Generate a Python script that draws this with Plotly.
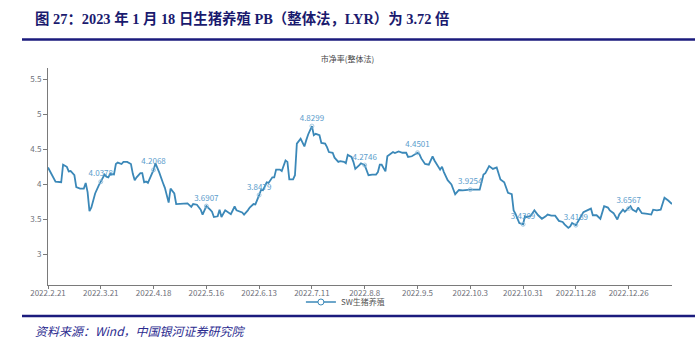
import plotly.graph_objects as go

# ---------------- data ----------------
dates = [
    "2022-02-21", "2022-02-22", "2022-02-25", "2022-02-28", "2022-03-01", "2022-03-03",
    "2022-03-04", "2022-03-05", "2022-03-07", "2022-03-08", "2022-03-10", "2022-03-12",
    "2022-03-13", "2022-03-14", "2022-03-15", "2022-03-16", "2022-03-18", "2022-03-20",
    "2022-03-21", "2022-03-23", "2022-03-24", "2022-03-25", "2022-03-26", "2022-03-28",
    "2022-03-29", "2022-03-30", "2022-04-01", "2022-04-02", "2022-04-04", "2022-04-06",
    "2022-04-07", "2022-04-08", "2022-04-09", "2022-04-11", "2022-04-12", "2022-04-13",
    "2022-04-14", "2022-04-15", "2022-04-18", "2022-04-19", "2022-04-21", "2022-04-22",
    "2022-04-23", "2022-04-24", "2022-04-26", "2022-04-27", "2022-04-29", "2022-04-30",
    "2022-05-06", "2022-05-08", "2022-05-09", "2022-05-11", "2022-05-13", "2022-05-14",
    "2022-05-16", "2022-05-18", "2022-05-19", "2022-05-20", "2022-05-22", "2022-05-23",
    "2022-05-24", "2022-05-26", "2022-05-28", "2022-05-29", "2022-05-31", "2022-06-01",
    "2022-06-04", "2022-06-05", "2022-06-07", "2022-06-08", "2022-06-10", "2022-06-11",
    "2022-06-13", "2022-06-14", "2022-06-15", "2022-06-17", "2022-06-18", "2022-06-20",
    "2022-06-21", "2022-06-22", "2022-06-24", "2022-06-25", "2022-06-27", "2022-06-28",
    "2022-06-29", "2022-07-01", "2022-07-02", "2022-07-03", "2022-07-05", "2022-07-07",
    "2022-07-08", "2022-07-09", "2022-07-11", "2022-07-12", "2022-07-13", "2022-07-15",
    "2022-07-16", "2022-07-18", "2022-07-19", "2022-07-20", "2022-07-22", "2022-07-23",
    "2022-07-25", "2022-07-26", "2022-07-28", "2022-07-29", "2022-07-30", "2022-08-01",
    "2022-08-02", "2022-08-03", "2022-08-05", "2022-08-06", "2022-08-08", "2022-08-09",
    "2022-08-10", "2022-08-12", "2022-08-14", "2022-08-15", "2022-08-16", "2022-08-17",
    "2022-08-19", "2022-08-20", "2022-08-22", "2022-08-23", "2022-08-24", "2022-08-26",
    "2022-08-28", "2022-08-30", "2022-08-31", "2022-09-02", "2022-09-05", "2022-09-06",
    "2022-09-07", "2022-09-09", "2022-09-11", "2022-09-13", "2022-09-14", "2022-09-17",
    "2022-09-18", "2022-09-19", "2022-09-21", "2022-09-23", "2022-09-25", "2022-09-27",
    "2022-09-29", "2022-10-03", "2022-10-08", "2022-10-10", "2022-10-11", "2022-10-13",
    "2022-10-15", "2022-10-17", "2022-10-19", "2022-10-21", "2022-10-23", "2022-10-25",
    "2022-10-26", "2022-10-27", "2022-10-29", "2022-10-31", "2022-11-01", "2022-11-02",
    "2022-11-04", "2022-11-06", "2022-11-08", "2022-11-10", "2022-11-12", "2022-11-13",
    "2022-11-15", "2022-11-17", "2022-11-19", "2022-11-21", "2022-11-22", "2022-11-24",
    "2022-11-25", "2022-11-26", "2022-11-28", "2022-11-30", "2022-12-02", "2022-12-04",
    "2022-12-06", "2022-12-07", "2022-12-09", "2022-12-11", "2022-12-13", "2022-12-15",
    "2022-12-16", "2022-12-18", "2022-12-20", "2022-12-21", "2022-12-23", "2022-12-24",
    "2022-12-26", "2022-12-27", "2022-12-28", "2022-12-30", "2022-12-31", "2023-01-02",
    "2023-01-05", "2023-01-07", "2023-01-08", "2023-01-10", "2023-01-12", "2023-01-14",
    "2023-01-16", "2023-01-18",
]

pb_values = [
    4.24, 4.19, 4.04, 4.03, 4.28, 4.25,
    4.185, 4.19, 4.13, 3.96, 3.94, 3.94,
    4.02, 3.89, 3.62, 3.67, 3.87, 3.99,
    4.0378, 4.14, 4.11, 4.10, 4.15, 4.14,
    4.29, 4.31, 4.29, 4.32, 4.32, 4.29,
    4.15, 4.06, 4.10, 4.16, 4.16, 4.03,
    4.04, 4.02, 4.2068, 4.30, 4.17, 4.08,
    4.02, 3.95, 3.74, 3.94, 3.87, 3.72,
    3.73, 3.68, 3.72, 3.71, 3.64, 3.57,
    3.6907, 3.64, 3.61, 3.535, 3.545, 3.64,
    3.535, 3.63, 3.60, 3.575, 3.685, 3.63,
    3.60, 3.57, 3.63, 3.67, 3.72, 3.715,
    3.8479, 3.92, 3.915, 4.03, 4.02, 4.10,
    4.10, 4.21, 4.21, 4.19, 4.34, 4.32,
    4.07, 4.07, 4.13, 4.58, 4.65, 4.54,
    4.63, 4.71, 4.8299, 4.70, 4.72, 4.70,
    4.59, 4.58, 4.53, 4.46, 4.45, 4.38,
    4.32, 4.33, 4.32, 4.30, 4.42, 4.39,
    4.32, 4.22, 4.27, 4.30, 4.2746, 4.20,
    4.13, 4.14, 4.14, 4.175, 4.28, 4.28,
    4.185, 4.40, 4.44, 4.46, 4.445, 4.47,
    4.45, 4.45, 4.39, 4.40, 4.4501, 4.43,
    4.37, 4.29, 4.28, 4.40, 4.34, 4.21,
    4.25, 4.175, 4.06, 4.00, 3.86, 3.92,
    3.915, 3.9254, 3.925, 4.14, 4.16, 4.26,
    4.22, 4.24, 4.07, 4.03, 3.88, 3.86,
    3.63, 3.58, 3.45, 3.4309, 3.545, 3.535,
    3.55, 3.63, 3.56, 3.51, 3.545, 3.57,
    3.555, 3.555, 3.48, 3.465, 3.43, 3.38,
    3.40, 3.45, 3.4189, 3.51, 3.605, 3.63,
    3.655, 3.56, 3.56, 3.51, 3.69, 3.67,
    3.63, 3.59, 3.50, 3.57, 3.64, 3.61,
    3.6567, 3.69, 3.64, 3.61, 3.67, 3.59,
    3.58, 3.57, 3.64, 3.63, 3.64, 3.81,
    3.77, 3.72,
]

label_dates = ["2022-03-21", "2022-04-18", "2022-05-16", "2022-06-13", "2022-07-11",
               "2022-08-08", "2022-09-05", "2022-10-03", "2022-10-31", "2022-11-28",
               "2022-12-26"]
label_values = [4.0378, 4.2068, 3.6907, 3.8479, 4.8299, 4.2746, 4.4501, 3.9254,
                3.4309, 3.4189, 3.6567]

tick_dates = ["2022-02-21", "2022-03-21", "2022-04-18", "2022-05-16", "2022-06-13",
              "2022-07-11", "2022-08-08", "2022-09-05", "2022-10-03", "2022-10-31",
              "2022-11-28", "2022-12-26"]
tick_text = ["2022.2.21", "2022.3.21", "2022.4.18", "2022.5.16", "2022.6.13",
             "2022.7.11", "2022.8.8", "2022.9.5", "2022.10.3", "2022.10.31",
             "2022.11.28", "2022.12.26"]
y_tick_vals = [3, 3.5, 4, 4.5, 5, 5.5]
y_tick_text = ["3", "3.5", "4", "4.5", "5", "5.5"]

series_name = "SW生猪养殖"
chart_title = "市净率(整体法)"
header_text = "图 27：2023 年 1 月 18 日生猪养殖 PB（整体法，LYR）为 3.72 倍"
source_text = "资料来源：Wind，中国银河证券研究院"

# ---------------- styling ----------------
LINE_COLOR = "#3b88b8"
LABEL_COLOR = "#5a9dcc"
AXIS_COLOR = "#7a7a7a"
TICK_FONT = dict(family="Noto Sans CJK SC, Open Sans, sans-serif", size=8, color="#6e7079")
NAVY = "#1b1b7d"

W, H = 695, 346
ML, MR, MT, MB = 48, 23, 68, 61
PW, PH = W - ML - MR, H - MT - MB


def px_to_paper_x(px):
    return (px - ML) / PW


def px_to_paper_y(py):
    return (H - MB - py) / PH


fig = go.Figure()

fig.add_trace(go.Scatter(
    x=dates, y=pb_values, mode="lines",
    line=dict(color=LINE_COLOR, width=1.8),
    showlegend=False, hoverinfo="x+y",
))

fig.add_trace(go.Scatter(
    x=label_dates, y=label_values, mode="markers+text",
    marker=dict(symbol="circle-open", size=4, color="#8fbddb", line=dict(width=0.8)),
    text=[f"{v:.4f}" for v in label_values], textposition="top center",
    textfont=dict(family="Noto Sans CJK SC, Open Sans, sans-serif", size=8, color=LABEL_COLOR),
    showlegend=False,
))

# legend entry (line with hollow circle)
fig.add_trace(go.Scatter(
    x=[None], y=[None], mode="lines+markers", name=series_name,
    line=dict(color=LINE_COLOR, width=1.3),
    marker=dict(symbol="circle", size=6, color="white", line=dict(color=LINE_COLOR, width=1)),
    showlegend=True,
))

fig.update_layout(
    width=W, height=H,
    margin=dict(l=ML, r=MR, t=MT, b=MB, pad=0, autoexpand=False),
    paper_bgcolor="white", plot_bgcolor="white",
    title=dict(text=chart_title, x=0.5, xref="container", xanchor="center",
               y=1 - 59 / H, yref="container", yanchor="middle",
               font=dict(family="Noto Sans CJK SC, sans-serif", size=8, color="#464646")),
    legend=dict(orientation="h", x=0.497, xref="container", xanchor="center",
                y=1 - 302 / H, yref="container", yanchor="middle",
                font=dict(family="Noto Sans CJK SC, sans-serif", size=8, color="#555555"),
                itemwidth=30, bgcolor="rgba(0,0,0,0)"),
    xaxis=dict(type="date", range=["2022-02-21", "2023-01-18"],
               tickmode="array", tickvals=tick_dates, ticktext=tick_text,
               showline=True, linecolor=AXIS_COLOR, linewidth=1,
               ticks="outside", ticklen=3, tickcolor=AXIS_COLOR,
               ticklabelstandoff=-3,
               showgrid=False, zeroline=False, tickfont=TICK_FONT, fixedrange=True),
    yaxis=dict(range=[2.567, 5.657], tickmode="array",
               tickvals=y_tick_vals, ticktext=y_tick_text,
               showline=True, linecolor=AXIS_COLOR, linewidth=1,
               ticks="outside", ticklen=4, tickcolor=AXIS_COLOR,
               showgrid=False, zeroline=False, tickfont=TICK_FONT, fixedrange=True),
    showlegend=True,
)

# header title
fig.add_annotation(
    text=f"<b>{header_text}</b>", xref="paper", yref="paper",
    x=px_to_paper_x(33), y=px_to_paper_y(19), xanchor="left", yanchor="middle",
    showarrow=False,
    font=dict(family="Liberation Serif, Noto Sans CJK SC, serif", size=14.4, color="#1a1a6e"),
)
# source text
fig.add_annotation(
    text=f"<i>{source_text}</i>", xref="paper", yref="paper",
    x=px_to_paper_x(33), y=px_to_paper_y(330), xanchor="left", yanchor="middle",
    showarrow=False,
    font=dict(family="Noto Sans CJK SC, sans-serif", size=12, color="#2b2b8f"),
)
# header / footer rules
for py in (39.5, 316):
    fig.add_shape(type="line", xref="paper", yref="paper",
                  x0=px_to_paper_x(22), x1=px_to_paper_x(695),
                  y0=px_to_paper_y(py), y1=px_to_paper_y(py),
                  line=dict(color=NAVY, width=2.5))

fig.write_html("out.html", config={"displayModeBar": False})
